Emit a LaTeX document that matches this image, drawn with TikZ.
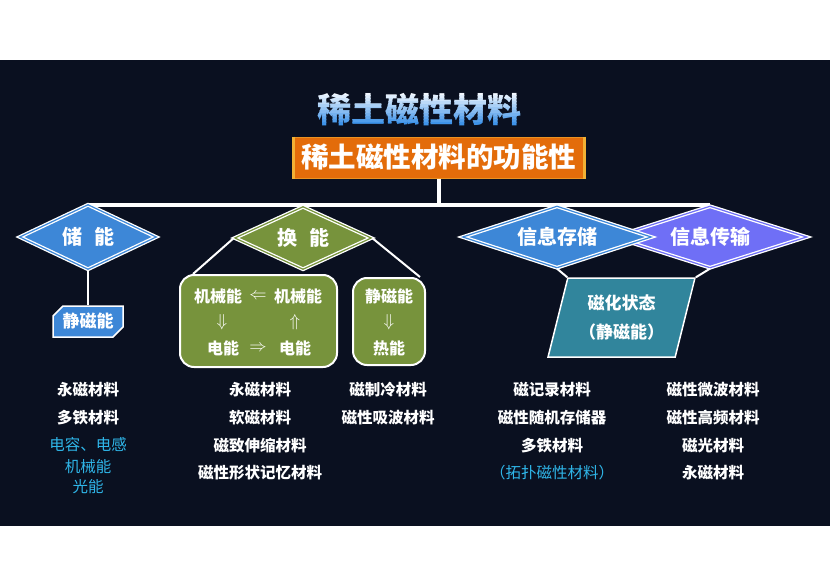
\documentclass[tikz,border=0pt]{standalone}
\usepackage{fontspec}
\setmainfont{Noto Sans CJK SC}
\usetikzlibrary{shapes.geometric,shapes.misc}

\definecolor{bgnavy}{HTML}{0A1020}
\definecolor{nblue}{HTML}{3D87D7}
\definecolor{npurple}{HTML}{6F6FF6}
\definecolor{ngreen}{HTML}{77933C}
\definecolor{nteal}{HTML}{31859C}
\definecolor{norange}{HTML}{E36C0A}
\definecolor{ngold}{HTML}{F2B134}
\definecolor{ncyan}{HTML}{2FB6E9}
\definecolor{ttltop}{HTML}{F2F8FF}
\definecolor{ttlbot}{HTML}{2A88E6}

\begin{document}
\begin{tikzpicture}[x=1pt,y=-1pt,
  dia/.style={diamond, aspect=2.1, inner sep=0pt, fill=#1, draw=white, double=#1,
    line width=1.3pt, double distance=1.2pt, text=white, font=\bfseries\fontsize{20}{24}\selectfont},
  link/.style={draw=white, line width=2pt},
  bus/.style={draw=white, line width=4pt},
  gbox/.style={rectangle, rounded corners=14pt, fill=ngreen, draw=white, line width=2pt, inner sep=0pt},
  gtxt/.style={text=white, inner sep=0pt, font=\bfseries\fontsize{16}{18}\selectfont},
  item/.style={text=white, inner sep=0pt, font=\bfseries\fontsize{15.5}{17}\selectfont},
  itemc/.style={text=ncyan, inner sep=0pt, font=\fontsize{15.5}{17}\selectfont}]
  % Background
  \fill[white] (0,0) rectangle (830,586);
  \fill[bgnavy] (0,60) rectangle (830,526);
  % Title, shaded in bands
  \foreach \i [evaluate=\i as \p using {int(100-9*\i)}] in {0,...,11} {
    \begin{scope}
      \clip (290,{92+3*\i}) rectangle (550,{95.2+3*\i});
      \node[text=ttltop!\p!ttlbot, font=\bfseries\fontsize{34}{36}\selectfont] (title\i) at (419,110) {稀土磁性材料};
    \end{scope}
  }
  \node[fill=norange, draw=ngold!55!norange, line width=1pt, minimum width=293pt, minimum height=41pt, inner sep=0pt,
    text=white, font=\bfseries\fontsize{27.5}{30}\selectfont] (func) at (438.5,157.5) {稀土磁性材料的功能性};
  \draw[ngold, line width=3pt] ([xshift=1.5pt]func.north west) -- ([xshift=1.5pt]func.south west);
  \draw[ngold, line width=3pt] ([xshift=-1.5pt]func.north east) -- ([xshift=-1.5pt]func.south east);
  % Main bar
  \coordinate (busL) at (88,205);
  \coordinate (busR) at (710,205);
  \draw[bus] (busL) -- (busR);
  \draw[bus] (func.south) -- (func.south |- busL);
  % Diamonds
  \node[dia=nblue, minimum width=137pt, minimum height=65pt] (cn) at (88,237) {储\hspace{.6em}能};
  \node[dia=ngreen, minimum width=137pt, minimum height=63pt] (hn) at (303,238) {换\hspace{.6em}能};
  \node[dia=npurple, minimum width=194pt, minimum height=62pt] (xt) at (710,237) {信息传输};
  \node[dia=nblue, minimum width=189pt, minimum height=62pt] (xc) at (557,237) {信息存储};
  % Storage
  \node[chamfered rectangle, chamfered rectangle corners={north west,south east},
    chamfered rectangle xsep=5pt, chamfered rectangle ysep=5pt, fill=nblue, draw=white, line width=1.5pt,
    minimum width=70pt, minimum height=31pt, inner sep=0pt, text=white,
    font=\bfseries\fontsize{17}{19}\selectfont] (jc) at (88,321.5) {静磁能};
  \draw[link] (cn.south) -- (jc.north);
  % Conversion
  \node[gbox, minimum width=157pt, minimum height=92pt] (jx) at (258.5,321) {};
  \node[gbox, minimum width=72pt, minimum height=87pt] (jr) at (389,321.5) {};
  \draw[link] (hn.west) -- ([xshift=14pt]jx.north west);
  \draw[link] (hn.east) -- ([xshift=-6pt]jr.north east);
  \node[gtxt] (m1) at (218,296) {机械能};
  \node[gtxt] (a1) at (258,296) {$\Leftarrow$};
  \node[gtxt] (m2) at (298,296) {机械能};
  \node[gtxt] (a2) at (222,322) {$\Downarrow$};
  \node[gtxt] (a3) at (295,322) {$\Uparrow$};
  \node[gtxt] (e1) at (223,348) {电能};
  \node[gtxt] (a4) at (258,348) {$\Rightarrow$};
  \node[gtxt] (e2) at (295,348) {电能};
  \node[gtxt] (s1) at (389,296) {静磁能};
  \node[gtxt] (a5) at (389,322) {$\Downarrow$};
  \node[gtxt] (h1) at (389,348) {热能};
  % Information
  \node[trapezium, trapezium left angle=71, trapezium right angle=109, trapezium stretches=true,
    minimum width=147pt, minimum height=79pt, fill=nteal, draw=white, line width=1.5pt, inner sep=0pt,
    text=white, align=center, font=\bfseries\fontsize{17}{29}\selectfont] (cz) at (621.5,317.5) {磁化状态\\（静磁能）};
  \draw[link] (xc.south) -- (cz.top left corner);
  \draw[link] (xt.south) -- (cz.top right corner);
  % Materials
  \node[item] (p1) at (88,390) {永磁材料};
  \node[item] (p2) at (88,418) {多铁材料};
  \node[itemc] (p3) at (88,445) {电容、电感};
  \node[itemc] (p4) at (88,467) {机械能};
  \node[itemc] (p5) at (88,487) {光能};
  \node[item] (q1) at (260,390) {永磁材料};
  \node[item] (q2) at (260,418) {软磁材料};
  \node[item] (q3) at (260,446) {磁致伸缩材料};
  \node[item] (q4) at (260,473) {磁性形状记忆材料};
  \node[item] (r1) at (388,390) {磁制冷材料};
  \node[item] (r2) at (388,418) {磁性吸波材料};
  \node[item] (u1) at (552,390) {磁记录材料};
  \node[item] (u2) at (552,418) {磁性随机存储器};
  \node[item] (u3) at (552,446) {多铁材料};
  \node[itemc] (u4) at (552,473) {（拓扑磁性材料）};
  \node[item] (v1) at (713,390) {磁性微波材料};
  \node[item] (v2) at (713,418) {磁性高频材料};
  \node[item] (v3) at (713,446) {磁光材料};
  \node[item] (v4) at (713,473) {永磁材料};
\end{tikzpicture}
\end{document}
